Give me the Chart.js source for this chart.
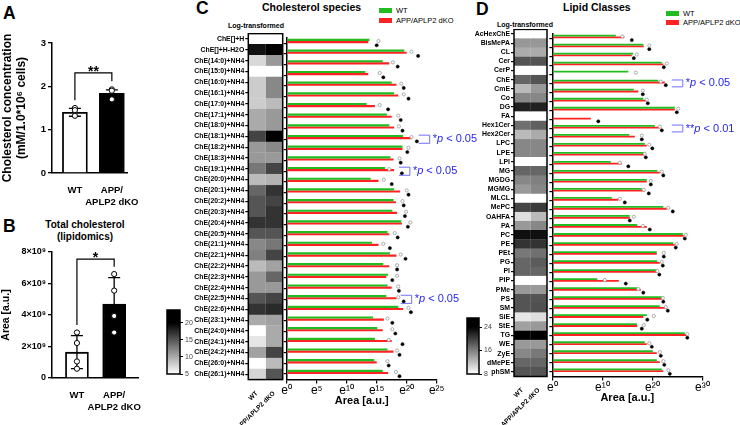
<!DOCTYPE html>
<html>
<head>
<meta charset="utf-8">
<script src="https://cdn.jsdelivr.net/npm/chart.js@4.4.1/dist/chart.umd.min.js"></script>
<style>
body { margin:0; width:740px; height:425px; position:relative; background:#fff; overflow:hidden;
       font-family:'Liberation Sans', Arial, sans-serif; }
canvas { position:absolute; }
.t { position:absolute; white-space:nowrap; line-height:1; font-weight:bold; color:#000; }
.sw { position:absolute; width:13px; height:5px; }
.lg { position:absolute; white-space:nowrap; line-height:1; font-size:7.5px; color:#000; }
</style>
</head>
<body>
<div class="t" style="left:3px;top:5px;font-size:17.5px">A</div>
<div class="t" style="left:3px;top:218px;font-size:17.5px">B</div>
<div class="t" style="left:196px;top:0px;font-size:17.5px">C</div>
<div class="t" style="left:476px;top:1px;font-size:17.5px">D</div>
<div class="t" style="left:35px;top:219px;width:100px;text-align:center;font-size:10px;line-height:12px">Total cholesterol<br>(lipidomics)</div>
<div class="t" style="left:262px;top:2px;font-size:10.5px">Cholesterol species</div>
<div class="t" style="left:563px;top:2px;font-size:10.5px">Lipid Classes</div>
<div class="t" style="left:228px;top:22px;font-size:7px">Log-transformed</div>
<div class="t" style="left:497px;top:21px;font-size:7px">Log-transformed</div>

<div class="sw" style="left:379px;top:8px;background:#22bb22"></div>
<div class="lg" style="left:396px;top:7px">WT</div>
<div class="sw" style="left:379px;top:18px;background:#ff2222"></div>
<div class="lg" style="left:396px;top:17px">APP/APLP2 dKO</div>
<div class="sw" style="left:666px;top:11px;background:#22bb22"></div>
<div class="lg" style="left:683px;top:10px">WT</div>
<div class="sw" style="left:666px;top:20px;background:#ff2222"></div>
<div class="lg" style="left:683px;top:19px">APP/APLP2 dKO</div>

<canvas id="cA" style="left:0;top:30px" width="140" height="180"></canvas>
<canvas id="cB" style="left:0;top:210px" width="145" height="210"></canvas>
<canvas id="cCb" style="left:160px;top:305px" width="40" height="75"></canvas>
<canvas id="cCh" style="left:190px;top:33px" width="95" height="396"></canvas>
<canvas id="cCbar" style="left:275px;top:33px" width="215" height="375"></canvas>
<canvas id="cDb" style="left:460px;top:313px" width="40" height="66"></canvas>
<canvas id="cDh" style="left:460px;top:29px" width="90" height="396"></canvas>
<canvas id="cDbar" style="left:540px;top:29px" width="200" height="376"></canvas>

<script>
// ---- data ----
const groups = ['WT', 'APP/APLP2 dKO'];
const groupTicks = ['WT', ['APP/', 'APLP2 dKO']];

// A: cholesterol concentration
const cholMean = [1.40, 1.84];
const cholSD = [0.09, 0.08];
const cholWT = [1.50, 1.45, 1.32];
const cholKO = [1.93, 1.90, 1.70];

// B: total cholesterol (lipidomics)
const totMean = [1.64e9, 4.70e9];
const totSD = [1.05e9, 1.67e9];
const totWT = [2.89e9, 2.22e9, 1.05e9, 0.59e9];
const totKO = [6.60e9, 5.55e9, 3.94e9, 2.89e9];

// C: cholesterol species (log area, e^x)
const cheLabels = ['ChE[]+H', 'ChE[]+H-H2O', 'ChE(14:0)+NH4', 'ChE(15:0)+NH4', 'ChE(16:0)+NH4', 'ChE(16:1)+NH4',
  'ChE(17:0)+NH4', 'ChE(17:1)+NH4', 'ChE(18:0)+NH4', 'ChE(18:1)+NH4', 'ChE(18:2)+NH4', 'ChE(18:3)+NH4',
  'ChE(19:1)+NH4', 'ChE(20:0)+NH4', 'ChE(20:1)+NH4', 'ChE(20:2)+NH4', 'ChE(20:3)+NH4', 'ChE(20:4)+NH4',
  'ChE(20:5)+NH4', 'ChE(21:1)+NH4', 'ChE(22:1)+NH4', 'ChE(22:2)+NH4', 'ChE(22:3)+NH4', 'ChE(22:4)+NH4',
  'ChE(22:5)+NH4', 'ChE(22:6)+NH4', 'ChE(23:1)+NH4', 'ChE(24:0)+NH4', 'ChE(24:1)+NH4', 'ChE(24:2)+NH4',
  'ChE(26:0)+NH4', 'ChE(26:1)+NH4'];
const cheWT = [13.8, 19.6, 16.0, 13.1, 17.5, 17.9, 13.3, 16.7, 17.1, 19.4, 19.3, 17.3, 16.4, 14.0, 17.9, 17.8,
  17.6, 19.1, 16.8, 14.2, 17.2, 16.1, 16.9, 16.8, 16.6, 18.6, 14.4, 15.1, 14.7, 16.8, 14.6, 16.0];
const cheKO = [13.6, 20.0, 17.1, 13.6, 18.3, 18.6, 14.7, 17.5, 17.9, 20.8, 19.3, 17.8, 17.9, 15.3, 18.9, 18.2,
  18.4, 19.2, 17.1, 15.3, 18.3, 17.1, 16.6, 17.5, 18.3, 19.4, 16.2, 16.0, 17.5, 17.8, 15.0, 16.9];
// highest single sample of each group
const cheDotWT = [15.3, 20.8, 17.7, 15.5, 19.1, 19.5, 15.5, 18.6, 18.7, 20.8, 20.3, 18.8, 17.1, 16.2, 20.0, 19.3,
  19.9, 20.6, 18.0, 16.1, 19.0, 18.4, 18.4, 18.6, 18.6, 20.3, 16.8, 17.6, 17.0, 18.4, 16.8, 18.2];
const cheDotKO = [15.0, 21.9, 18.5, 16.1, 19.5, 20.3, 16.9, 19.0, 19.3, 21.7, 20.1, 19.0, 19.2, 17.5, 20.3, 19.5,
  19.7, 20.2, 18.5, 17.2, 19.8, 18.4, 17.6, 18.7, 19.5, 20.7, 17.6, 18.1, 19.3, 18.8, 17.0, 18.8];
const cheHeatWT = [5, 19, 7.3, 5, 8, 8, 8, 10, 10, 16, 11, 11, 13, 9, 14, 15, 15, 17, 15, 12, 12.5, 9, 11, 11,
  15, 17, 10, 5, 6.5, 10.5, 5, 7.5];
const cheHeatKO = [5, 20, 11, 5, 12, 12, 9, 11, 11, 20, 12, 11, 16, 9.5, 17, 16, 17, 17, 15, 13, 16, 10.5, 14,
  11, 16, 17.5, 10.5, 10, 10, 16, 9, 15];
const cheHeatRange = [5, 20];
const cheBarTicks = [5, 10, 15, 20];
const cheSig = [
  { row: 'ChE(18:1)+NH4', at: 22.0, stars: '*', p: '0.05' },
  { row: 'ChE(19:1)+NH4', at: 18.7, stars: '*', p: '0.05' },
  { row: 'ChE(22:5)+NH4', at: 19.0, stars: '*', p: '0.05' }
];

// D: lipid classes
const lipLabels = ['AcHexChE', 'BisMePA', 'CL', 'Cer', 'CerP', 'ChE', 'CmE', 'Co', 'DG', 'FA', 'Hex1Cer',
  'Hex2Cer', 'LPC', 'LPE', 'LPI', 'MG', 'MGDG', 'MGMG', 'MLCL', 'MePC', 'OAHFA', 'PA', 'PC', 'PE', 'PEt',
  'PG', 'PI', 'PIP', 'PMe', 'PS', 'SM', 'SiE', 'StE', 'TG', 'WE', 'ZyE', 'dMePE', 'phSM'];
const lipWT = [12.7, 18.2, 16.2, 21.9, 15.2, 21.2, 16.3, 18.2, 24.5, 0, 20.5, 15.4, 18.5, 18.3, 11.7, 21.0,
  18.9, 17.9, 11.9, 22.2, 15.5, 17.0, 26.1, 24.2, 20.9, 21.0, 20.9, 9.0, 17.0, 21.9, 21.5, 18.9, 16.9, 26.5,
  18.5, 20.1, 20.9, 21.9];
const lipKO = [14.4, 18.3, 15.9, 22.2, 0, 22.5, 17.2, 18.9, 24.5, 7.7, 21.5, 16.5, 18.9, 18.5, 13.9, 21.5,
  18.9, 18.5, 13.2, 22.9, 15.5, 18.9, 26.3, 24.5, 20.9, 21.5, 21.0, 13.3, 17.7, 21.9, 22.9, 18.2, 17.0, 26.9,
  18.9, 20.9, 21.5, 22.2];
const lipDotWT = [14.0, 19.4, 16.9, 22.9, 16.7, 21.7, 18.1, 18.9, 25.2, null, 21.5, 17.9, 19.4, 18.5, 13.5, 21.9,
  19.7, 18.3, 13.5, 23.2, 16.3, 18.1, 26.7, 24.9, 22.3, 21.9, 21.0, 10.5, 17.2, 22.1, 22.7, 20.3, 18.3, 27.0,
  19.4, 21.5, 22.2, 23.2];
const lipDotKO = [15.9, 19.4, 16.3, 22.3, null, 22.7, 18.1, 19.1, 24.9, 9.2, 21.9, 17.9, 20.0, 18.7, 15.2, 22.2,
  19.7, 19.3, 14.5, 24.1, 15.5, 19.5, 26.5, 24.7, 22.3, 22.1, 21.4, 14.7, 18.2, 22.2, 23.1, 19.0, 17.9, 27.0,
  19.9, 21.7, 22.4, 23.5];
const lipHeatWT = [8, 14.5, 13.3, 18.7, 8, 17.6, 12.3, 15.5, 21.9, 8, 17, 12.3, 15.5, 15.5, 8, 17.6, 15.5,
  14.4, 8, 19.7, 10.1, 14.4, 23, 20.8, 16.5, 17.6, 17.6, 8, 14.4, 18.7, 18.7, 9.6, 13.9, 24, 14.4, 15.5, 17.6, 18.7];
const lipHeatKO = [8, 14.5, 13.3, 18.7, 8, 18.7, 14.4, 15.5, 21.9, 8, 18, 13.3, 15.5, 15.5, 8, 17.6, 16, 15.5,
  8, 20.3, 12.3, 15.5, 23, 20.8, 17, 18.3, 17.6, 8, 14.4, 18.7, 19, 10.1, 14.4, 24, 14.4, 16.5, 17.6, 18.7];
const lipHeatRange = [8, 24];
const lipBarTicks = [8, 16, 24];
const lipSig = [
  { row: 'ChE', at: 23.9, stars: '*', p: '0.05' },
  { row: 'Hex1Cer', at: 23.9, stars: '**', p: '0.01' }
];

// ---- setup ----
const GREEN = '#22bb22', RED = '#ff2222';
const FONT = "'Liberation Sans', Arial, sans-serif";
Chart.defaults.font.family = FONT;
Chart.defaults.color = '#000';
Chart.defaults.animation = false;
Chart.defaults.responsive = false;
Chart.defaults.devicePixelRatio = 1;
Chart.defaults.plugins.legend.display = false;
Chart.defaults.plugins.tooltip.enabled = false;

function sup(v) {
  return String(v).split('').map(d => '⁰¹²³⁴⁵⁶⁷⁸⁹'[+d]).join('');
}

function shade(v, lo, hi) {
  let f = Math.min(1, Math.max(0, (v - lo) / (hi - lo)));
  let g = Math.round(255 * (1 - f));
  return 'rgb(' + g + ',' + g + ',' + g + ')';
}

function fixW(w) { return s => { s.width = w; s.paddingTop = 0; s.paddingBottom = 0; }; }
function fixH(h) { return s => { s.height = h; s.paddingLeft = 0; s.paddingRight = 0; }; }

// frame around the plot area (heatmaps, colour bars)
const frame = {
  id: 'frame',
  afterDatasetsDraw(chart) {
    const { ctx, chartArea: c } = chart;
    ctx.save();
    ctx.strokeStyle = '#000';
    ctx.lineWidth = 1.5;
    ctx.strokeRect(c.left, c.top, c.right - c.left, c.bottom - c.top);
    ctx.restore();
  }
};

// error bars + significance bracket for panels A and B
const stats = {
  id: 'stats',
  afterDatasetDraw(chart, args, opts) {
    if (args.index !== 0) return;
    const { ctx, scales: { x, y } } = chart;
    ctx.save();
    ctx.strokeStyle = '#000';
    ctx.lineWidth = 1.3;
    opts.mean.forEach((m, i) => {
      const px = x.getPixelForValue(i);
      const t = y.getPixelForValue(m + opts.sd[i]), b = y.getPixelForValue(m - opts.sd[i]);
      ctx.beginPath();
      ctx.moveTo(px, t); ctx.lineTo(px, b);
      ctx.moveTo(px - 6, t); ctx.lineTo(px + 6, t);
      ctx.moveTo(px - 6, b); ctx.lineTo(px + 6, b);
      ctx.stroke();
    });
    ctx.restore();
  },
  afterDraw(chart, args, opts) {
    const { ctx, scales: { x, y } } = chart;
    const br = opts.bracket;
    const x0 = x.getPixelForValue(0), x1 = x.getPixelForValue(1), top = y.getPixelForValue(br.top);
    ctx.save();
    ctx.strokeStyle = '#000';
    ctx.lineWidth = 1.2;
    ctx.beginPath();
    ctx.moveTo(x0, y.getPixelForValue(br.left));
    ctx.lineTo(x0, top);
    ctx.lineTo(x1, top);
    ctx.lineTo(x1, y.getPixelForValue(br.right));
    ctx.stroke();
    ctx.fillStyle = '#000';
    ctx.font = 'bold 14px ' + FONT;
    ctx.textAlign = 'center';
    ctx.textBaseline = 'alphabetic';
    ctx.fillText(br.text, (x0 + x1) / 2, top + 3);
    ctx.restore();
  }
};

// blue "*p < 0.05" notes next to rows
const sig = {
  id: 'sig',
  afterDraw(chart, args, opts) {
    const { ctx, scales: { x, y } } = chart;
    const step = Math.abs(y.getPixelForValue(1) - y.getPixelForValue(0));
    (opts.items || []).forEach(s => {
      const yc = y.getPixelForValue(chart.data.labels.indexOf(s.row));
      const x0 = x.getPixelForValue(s.at), h = step * 0.38;
      ctx.save();
      ctx.strokeStyle = '#6f6fff';
      ctx.lineWidth = 1;
      ctx.beginPath();
      ctx.moveTo(x0, yc - h); ctx.lineTo(x0 + 11, yc - h);
      ctx.lineTo(x0 + 11, yc + h); ctx.lineTo(x0, yc + h);
      ctx.stroke();
      ctx.fillStyle = '#2626f0';
      ctx.textBaseline = 'middle';
      let tx = x0 + 14;
      [[s.stars, ''], ['p', 'italic '], [' < ' + s.p, '']].forEach(([t, st]) => {
        ctx.font = st + '11px ' + FONT;
        ctx.fillText(t, tx, yc);
        tx += ctx.measureText(t).width;
      });
      ctx.restore();
    });
  }
};

function makeDots(id, mean, sd, wt, ko, xr, ymax, step, barW, yFmt, yTitle, tickSize, titleSize, pad, xH, bracket) {
  return new Chart(document.getElementById(id), {
    type: 'bar',
    data: {
      datasets: [
        { type: 'bar', order: 2, data: mean.map((m, i) => ({ x: i, y: m })),
          backgroundColor: ['#fff', '#000'], borderColor: '#000', borderWidth: 1.8, barThickness: barW },
        { type: 'scatter', order: 1,
          data: wt.map(v => ({ x: 0, y: v })).concat(ko.map(v => ({ x: 1, y: v }))),
          pointRadius: 2.6, pointBackgroundColor: '#fff', pointBorderColor: '#000', pointBorderWidth: 1 }
      ]
    },
    options: {
      layout: { padding: pad },
      plugins: { stats: { mean: mean, sd: sd, bracket: bracket } },
      scales: {
        x: { type: 'linear', offset: false, min: xr[0], max: xr[1],
          afterBuildTicks: s => { s.ticks = [{ value: 0 }, { value: 1 }]; },
          ticks: { callback: (v, i) => groupTicks[i], font: { size: 9.5, weight: 'bold' }, maxRotation: 0,
            autoSkip: false, padding: 4 },
          grid: { display: false }, border: { color: '#000', width: 1.5 }, afterFit: fixH(xH) },
        y: { min: 0, max: ymax,
          ticks: { stepSize: step, callback: yFmt, font: { size: tickSize, weight: 'bold' }, padding: 2 },
          grid: { drawOnChartArea: false, tickLength: 4, color: '#000', lineWidth: 1.3 },
          border: { color: '#000', width: 1.5 },
          title: { display: true, text: yTitle, font: { size: titleSize, weight: 'bold' }, padding: { top: 0, bottom: 2 } },
          afterFit: fixW(52) }
      }
    },
    plugins: [stats]
  });
}

function makeHeat(id, rows, wt, ko, range, yW, pad, xH) {
  return new Chart(document.getElementById(id), {
    type: 'bar',
    data: {
      labels: rows,
      datasets: [
        { data: wt.map(() => 1), backgroundColor: wt.map(v => shade(v, range[0], range[1])),
          borderColor: wt.map(v => shade(v, range[0], range[1])), borderWidth: 0.5 },
        { data: ko.map(() => 1), backgroundColor: ko.map(v => shade(v, range[0], range[1])),
          borderColor: ko.map(v => shade(v, range[0], range[1])), borderWidth: 0.5 }
      ]
    },
    options: {
      indexAxis: 'y',
      barPercentage: 1, categoryPercentage: 1,
      layout: { padding: pad },
      scales: {
        x: { type: 'linear', stacked: true, min: 0, max: 2,
          afterBuildTicks: s => { s.ticks = [{ value: 0.5 }, { value: 1.5 }]; },
          ticks: { callback: (v, i) => groups[i], minRotation: 45, maxRotation: 45, autoSkip: false,
            font: { size: 6.5, weight: 'bold' }, padding: 2 },
          grid: { display: false }, border: { display: false }, afterFit: fixH(xH) },
        y: { stacked: true,
          ticks: { autoSkip: false, font: { size: 6.9, weight: 'bold' }, padding: 1 },
          grid: { offset: false, drawOnChartArea: false, tickLength: 3, color: '#000', lineWidth: 1.2 },
          border: { display: false }, afterFit: fixW(yW) }
      }
    },
    plugins: [frame]
  });
}

function makeScale(id, range, top, tickVals, pad, yW) {
  return new Chart(document.getElementById(id), {
    type: 'bar',
    data: {
      labels: [''],
      datasets: [{
        data: [[range[0], top]], barPercentage: 1, categoryPercentage: 1,
        backgroundColor: c => {
          const ch = c.chart, y = ch.scales.y;
          if (!ch.chartArea || !y) return '#888';
          const g = ch.ctx.createLinearGradient(0, y.getPixelForValue(range[0]), 0, y.getPixelForValue(range[1]));
          g.addColorStop(0, '#fff');
          g.addColorStop(1, '#000');
          return g;
        }
      }]
    },
    options: {
      layout: { padding: pad },
      scales: {
        x: { display: false },
        y: { position: 'right', min: range[0], max: top,
          afterBuildTicks: s => { s.ticks = tickVals.map(v => ({ value: v })); },
          ticks: { font: { size: 7 }, color: '#444', padding: 2 },
          grid: { drawOnChartArea: false, tickLength: 3, color: '#000' },
          border: { display: false }, afterFit: fixW(yW) }
      }
    },
    plugins: [frame]
  });
}

function makeBars(id, rows, wt, ko, dotWT, dotKO, xmax, step, notes, yW, pad, xH) {
  // samples sit on their own bar: WT bar is row - 0.2, dKO bar row + 0.2
  const pts = (arr, shift) => arr.map((v, i) => v === null ? null : { x: v, y: i + shift }).filter(p => p);
  return new Chart(document.getElementById(id), {
    type: 'bar',
    data: {
      labels: rows,
      datasets: [
        { label: 'WT', data: wt, backgroundColor: GREEN, order: 2 },
        { label: 'APP/APLP2 dKO', data: ko, backgroundColor: RED, order: 2 },
        { type: 'scatter', data: pts(dotWT, -0.2), yAxisID: 'yp', order: 1,
          pointRadius: 1.6, pointBackgroundColor: '#fff', pointBorderColor: '#999', pointBorderWidth: 0.8 },
        { type: 'scatter', data: pts(dotKO, 0.2), yAxisID: 'yp', order: 1,
          pointRadius: 1.6, pointBackgroundColor: '#000', pointBorderColor: '#000', pointBorderWidth: 0.5 }
      ]
    },
    options: {
      indexAxis: 'y',
      barPercentage: 1, categoryPercentage: 0.8,
      layout: { padding: pad },
      plugins: { sig: { items: notes } },
      scales: {
        x: { min: 0, max: xmax,
          ticks: { stepSize: step, callback: v => 'e' + sup(v), font: { size: 12 }, maxRotation: 0, padding: 0 },
          grid: { drawOnChartArea: false, tickLength: 4, color: '#000', lineWidth: 1.2 },
          border: { color: '#000', width: 1.5 },
          title: { display: true, text: 'Area [a.u.]', font: { size: 11, weight: 'bold' }, padding: 0 },
          afterFit: fixH(xH) },
        y: { ticks: { display: false },
          grid: { offset: false, drawOnChartArea: false, tickLength: 3, color: '#000', lineWidth: 1.2 },
          border: { color: '#000', width: 1.5 }, afterFit: fixW(yW) },
        yp: { type: 'linear', display: false, offset: false, grace: 0, reverse: true,
          min: -0.5, max: rows.length - 0.5 }
      }
    },
    plugins: [sig]
  });
}

// ---- panels ----
makeDots('cA', cholMean, cholSD, cholWT, cholKO, [-0.62, 1.41], 3, 1, 25,
  v => v, ['Cholesterol concentration', '(mM/1.0*10⁶ cells)'], 9.5, 12, { top: 13, right: 13 }, 37,
  { top: 2.31, left: 1.68, right: 2.12, text: '**' });

makeDots('cB', totMean, totSD, totWT, totKO, [-0.67, 1.64], 8e9, 2e9, 23,
  v => v === 0 ? '0' : (v / 1e9) + '×10⁹', 'Area [a.u.]', 9, 10.5, { top: 42, right: 7 }, 42,
  { top: 7.55e9, left: 3.37e9, right: 7.07e9, text: '*' });

makeScale('cCb', cheHeatRange, 23.7, cheBarTicks, { left: 7, top: 5, bottom: 6 }, 20);
makeHeat('cCh', cheLabels, cheHeatWT, cheHeatKO, cheHeatRange, 58.3, { top: 0.6, right: 2.3 }, 49.4);
makeBars('cCbar', cheLabels, cheWT, cheKO, cheDotWT, cheDotKO, 25, 5, cheSig, 11.7, { top: 0.6, right: 53.3 }, 28.6);

makeScale('cDb', lipHeatRange, 27.1, lipBarTicks, { left: 7, top: 5, bottom: 5 }, 21);
makeHeat('cDh', lipLabels, lipHeatWT, lipHeatKO, lipHeatRange, 54, { top: 0.4, right: 3 }, 48.5);
makeBars('cDbar', lipLabels, lipWT, lipKO, lipDotWT, lipDotKO, 30, 10, lipSig, 12.3, { top: 0.4, right: 37.7 }, 28.5);
</script>
</body>
</html>
